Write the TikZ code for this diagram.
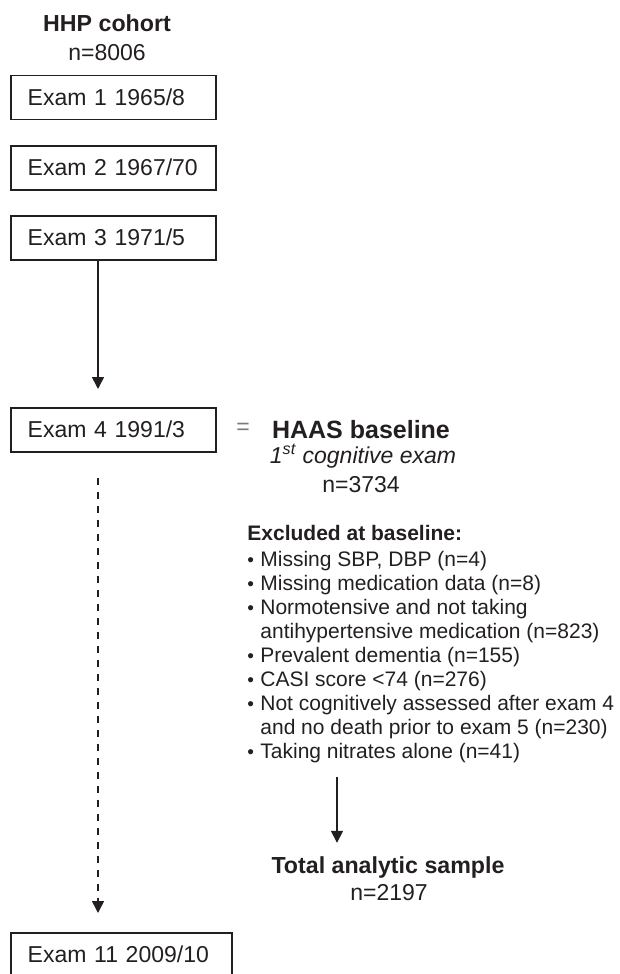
\documentclass[tikz,border=0pt]{standalone}
\usepackage{fontspec}
\setmainfont{Liberation Sans}
\usepackage{xcolor}
\usepackage{tikz}
\usetikzlibrary{arrows.meta}
\definecolor{ink}{HTML}{231F20}
\newcommand{\exbul}{\makebox[6.5pt][l]{\fontsize{9.5}{9.5}\selectfont\textbullet}}

\begin{document}
\begin{tikzpicture}[x=0.5pt,y=-0.5pt,>={Triangle[length=6pt,width=6pt]},
  every node/.style={inner sep=0pt,text=ink},
  txt/.style={font=\fontsize{11.5}{13.8}\selectfont},
  hd/.style={font=\fontsize{11.6}{14}\selectfont\bfseries},
  exambox/.style={draw=ink,line width=0.75pt,anchor=north west,minimum height=22pt,
    text width=85.5pt,inner xsep=8.5pt,align=left,txt},
  flow/.style={draw=ink,line width=0.8pt,->}]
\useasboundingbox (0,0) rectangle (620,974);
% left column: the HHP exams
\node[hd,anchor=base](hhp) at (107,32){HHP cohort};
\node[txt,anchor=base](hhpn) at (107,61){n=8006};
\node[exambox](exam1) at (10,75){Exam 1 1965/8};
\node[exambox](exam2) at (10,145){Exam 2 1967/70};
\node[exambox](exam3) at (10,215){Exam 3 1971/5};
\node[exambox](exam4) at (10,407){Exam 4 1991/3};
\node[exambox,text width=93.5pt](exam11) at (10,932){Exam 11 2009/10};
\coordinate (spine) at (98,0);
\draw[flow,shorten >=9pt](exam3.south -| spine)--(exam4.north -| spine);
\draw[flow,dash pattern=on 3.5pt off 3.5pt,shorten <=12.5pt,shorten >=9.5pt]
  (exam4.south -| spine)--(exam11.north -| spine);
% right column: HAAS baseline and exclusions
\node[txt,text=ink!60](eq) at (243,429){=};
\node[font=\fontsize{12.5}{15}\selectfont\bfseries,anchor=base](haas) at (361,438){HAAS baseline};
\node[txt,font=\fontsize{11.5}{13.8}\selectfont\itshape,anchor=base](cog) at (363,463){1\textsuperscript{st} cognitive exam};
\node[txt,anchor=base](haasn) at (361,492){n=3734};
\node[anchor=north west,align=left,font=\fontsize{10.5}{12}\selectfont](excl) at (247,525){%
  \textbf{Excluded at baseline:}\\[1pt]
  \exbul Missing SBP, DBP (n=4)\\
  \exbul Missing medication data (n=8)\\
  \exbul Normotensive and not taking\\
  \hspace*{6.5pt}antihypertensive medication (n=823)\\
  \exbul Prevalent dementia (n=155)\\
  \exbul CASI score <74 (n=276)\\
  \exbul Not cognitively assessed after exam 4\\
  \hspace*{6.5pt}and no death prior to exam 5 (n=230)\\
  \exbul Taking nitrates alone (n=41)};
\coordinate (sidecol) at (337,0);
\node[hd,anchor=base](total) at (388,873){Total analytic sample};
\node[txt,anchor=base](totaln) at (389,900){n=2197};
\draw[flow,shorten <=6.8pt,shorten >=6.5pt](excl.south -| sidecol)--(total.north -| sidecol);
\end{tikzpicture}
\end{document}
